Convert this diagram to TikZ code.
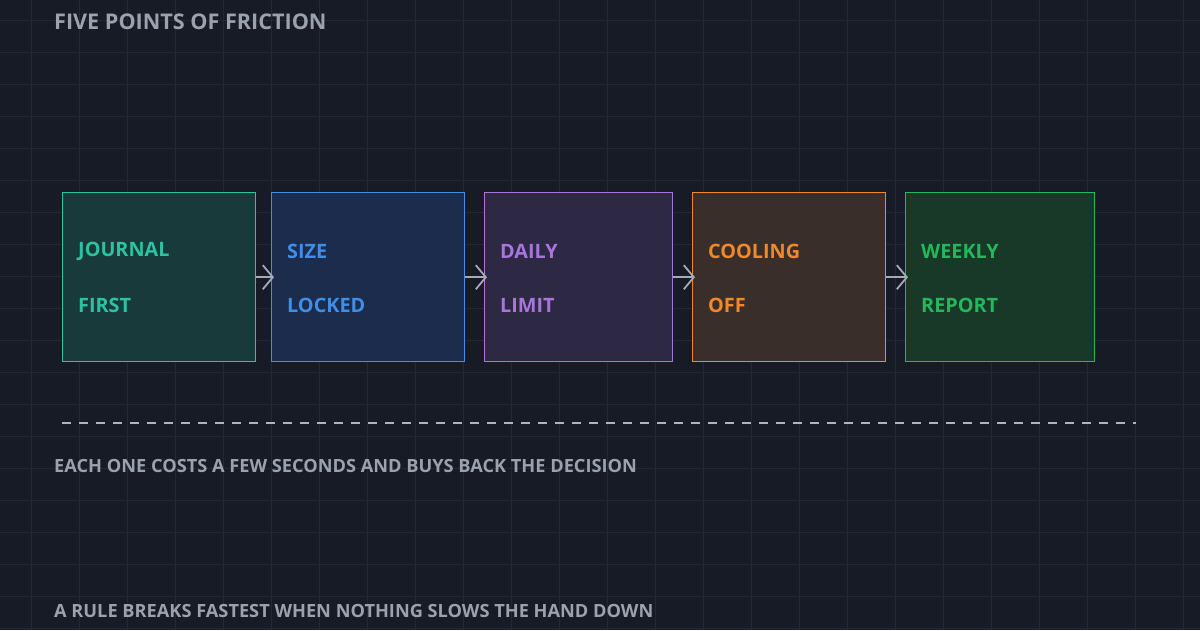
\documentclass[tikz,border=0pt]{standalone}
\usepackage{fontspec}
\setmainfont{Open Sans}
\usetikzlibrary{arrows.meta}
\definecolor{bg}{HTML}{171B26}
\definecolor{gridc}{HTML}{232835}
\definecolor{txt}{HTML}{9CA1AE}
\definecolor{cA}{HTML}{2CC2A2}\definecolor{fA}{HTML}{193A3A}
\definecolor{cB}{HTML}{3F8EE8}\definecolor{fB}{HTML}{1C2C4C}
\definecolor{cC}{HTML}{A775DC}\definecolor{fC}{HTML}{2D2844}
\definecolor{cD}{HTML}{F0882C}\definecolor{fD}{HTML}{3A2E2A}
\definecolor{cE}{HTML}{26B75C}\definecolor{fE}{HTML}{183828}
\begin{document}
\begin{tikzpicture}[x=1pt,y=-1pt,
  box/.style={draw=#1,line width=1.4pt,anchor=north west,inner sep=0pt},
  lab/.style={anchor=west,font=\bfseries\fontsize{19.8}{20}\selectfont,inner sep=0pt},
  conn/.style={draw=txt!90,line width=1.8pt,-{Straight Barb[length=10pt,width=24pt,line width=1.8pt]}},
  captxt/.style={anchor=west,text=txt,font=\bfseries\fontsize{18.2}{18}\selectfont,inner sep=0pt}]
\fill[bg] (0,0) rectangle (1200,630);
\useasboundingbox (0,0) rectangle (1200,630);
\foreach \x in {31,79,...,1200} \draw[gridc,line width=0.6pt] (\x,0) -- (\x,630);
\foreach \y in {20,52,...,630} \draw[gridc,line width=0.6pt] (0,\y) -- (1200,\y);
\node[anchor=west,text=txt,font=\bfseries\fontsize{21.6}{22}\selectfont,inner sep=0pt] (title) at (54,22) {FIVE POINTS OF FRICTION};
\foreach \n/\x/\w/\c/\a/\b in {1/62/193/A/JOURNAL/FIRST,2/271/193/B/SIZE/LOCKED,3/484/188/C/DAILY/LIMIT,4/692/193/D/COOLING/OFF,5/905/189/E/WEEKLY/REPORT}{
  \node[box=c\c,fill=f\c,minimum width=\w pt,minimum height=169pt] (b\n) at (\x,192) {};
  \node[lab,text=c\c] (t\n) at (\x+16,251) {\a};
  \node[lab,text=c\c] (u\n) at (\x+16,305) {\b};
}
\foreach \i/\j in {1/2,2/3,3/4,4/5} \draw[conn] (b\i.east) -- ([xshift=3pt]b\j.west);
\coordinate (d1) at (62,423); \coordinate (d2) at (1136,423);
\draw[txt!80,line width=1.2pt,dash pattern=on 9pt off 8pt] (d1) -- (d2);
\node[captxt] (c1) at (54,466) {EACH ONE COSTS A FEW SECONDS AND BUYS BACK THE DECISION};
\node[captxt] (c2) at (54,611) {A RULE BREAKS FASTEST WHEN NOTHING SLOWS THE HAND DOWN};
\end{tikzpicture}
\end{document}
